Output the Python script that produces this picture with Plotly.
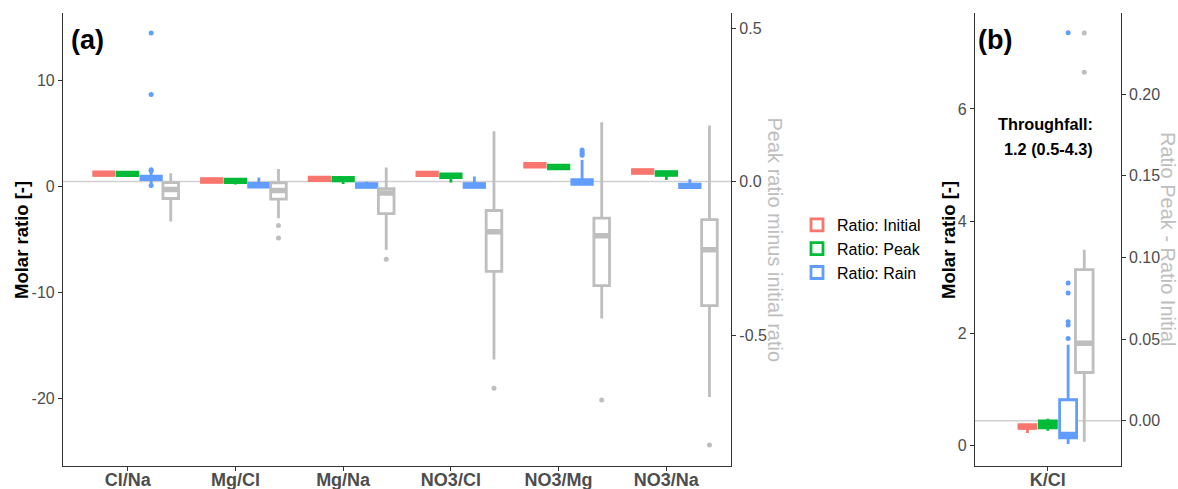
import plotly.graph_objects as go

W, H = 1178, 489

# ---------------- data ----------------
cats_a = ["Cl/Na", "Mg/Cl", "Mg/Na", "NO3/Cl", "NO3/Mg", "NO3/Na"]
cats_b = ["K/Cl"]

# Panel (a) molar ratios (left axis)
init_q1 = [1.05, 0.40, 0.56, 1.03, 1.85, 1.25]
init_med = [1.22, 0.57, 0.73, 1.20, 2.02, 1.42]
init_q3 = [1.39, 0.74, 0.90, 1.37, 2.19, 1.59]
init_lo = [1.00, 0.35, 0.50, 0.98, 1.80, 1.20]
init_hi = [1.45, 0.80, 0.95, 1.42, 2.25, 1.65]

peak_q1 = [1.03, 0.37, 0.53, 0.86, 1.68, 1.06]
peak_med = [1.20, 0.54, 0.70, 1.03, 1.85, 1.23]
peak_q3 = [1.37, 0.71, 0.87, 1.20, 2.02, 1.40]
peak_lo = [0.98, 0.20, 0.25, 0.38, 1.62, 0.63]
peak_hi = [1.42, 0.76, 0.92, 1.25, 2.08, 1.45]

rain_q1 = [0.65, -0.04, -0.07, -0.07, 0.20, -0.10]
rain_med = [0.82, 0.13, 0.10, 0.10, 0.40, 0.07]
rain_q3 = [0.99, 0.30, 0.27, 0.27, 0.65, 0.24]
rain_lo = [0.25, -0.08, -0.10, -0.10, 0.15, -0.13]
rain_hi = [1.35, 0.85, 0.45, 0.95, 2.50, 0.70]
rain_out_cat = ["Cl/Na", "Cl/Na", "Cl/Na", "Cl/Na", "Cl/Na",
                "NO3/Mg", "NO3/Mg", "NO3/Mg", "NO3/Mg"]
rain_out_val = [0.10, 1.50, 1.60, 8.70, 14.50, 2.95, 3.10, 3.30, 3.45]

# Panel (a) peak minus initial ratio (right axis)
diff_q1 = [-0.055, -0.057, -0.104, -0.292, -0.339, -0.404]
diff_med = [-0.026, -0.029, -0.037, -0.163, -0.176, -0.222]
diff_q3 = [-0.003, -0.004, -0.023, -0.094, -0.119, -0.124]
diff_lo = [-0.130, -0.119, -0.222, -0.579, -0.446, -0.701]
diff_hi = [0.027, 0.041, 0.046, 0.164, 0.193, 0.183]
diff_out_cat = ["Mg/Cl", "Mg/Cl", "Mg/Na", "NO3/Cl", "NO3/Mg", "NO3/Na"]
diff_out_val = [-0.143, -0.184, -0.253, -0.673, -0.711, -0.858]

# Panel (b) K/Cl
kcl_init = dict(q1=[0.31], med=[0.34], q3=[0.375], lo=[0.23], hi=[0.38])
kcl_peak = dict(q1=[0.32], med=[0.38], q3=[0.445], lo=[0.27], hi=[0.48])
kcl_rain = dict(q1=[0.14], med=[0.20], q3=[0.82], lo=[0.03], hi=[1.80])
kcl_rain_out = [1.91, 2.15, 2.21, 2.72, 2.90, 7.36]
kcl_diff = dict(q1=[0.0295], med=[0.0474], q3=[0.0925], lo=[-0.0129], hi=[0.1047])
kcl_diff_out = [0.2135, 0.2375]

series_names = ["Ratio: Initial", "Ratio: Peak", "Ratio: Rain"]

# ---------------- style ----------------
RED, GREEN, BLUE, GRAY = "#F8766D", "#00BA38", "#619CFF", "#BEBEBE"
FONT = "Liberation Sans, Arial, sans-serif"
AXC = "#333333"
TICKC = "#4D4D4D"

fig = go.Figure()


def add_box(pos, q1, med, q3, lo, hi, color, xa, ya, width, name=None, legend=False):
    fig.add_trace(go.Box(
        x=pos, q1=q1, median=med, q3=q3, lowerfence=lo, upperfence=hi,
        width=width, whiskerwidth=0, fillcolor="white",
        line=dict(color=color, width=2.8), boxpoints=False,
        xaxis=xa, yaxis=ya, name=name, showlegend=legend, hoverinfo="skip"))
    # thicker median line (ggplot style)
    fig.add_trace(go.Box(
        x=pos, q1=med, median=med, q3=med, lowerfence=med, upperfence=med,
        width=width, whiskerwidth=0, fillcolor=color,
        line=dict(color=color, width=5.5), boxpoints=False,
        xaxis=xa, yaxis=ya, showlegend=False, hoverinfo="skip"))


def add_pts(pos, vals, color, xa, ya):
    fig.add_trace(go.Scatter(
        x=pos, y=vals, mode="markers", marker=dict(color=color, size=5),
        xaxis=xa, yaxis=ya, showlegend=False, hoverinfo="skip"))


idx_a = {c: i + 1 for i, c in enumerate(cats_a)}
base_a = [idx_a[c] for c in cats_a]

off_a = [-0.22, 0.0, 0.218]
wa = 0.19
stats_a = [
    (init_q1, init_med, init_q3, init_lo, init_hi, RED),
    (peak_q1, peak_med, peak_q3, peak_lo, peak_hi, GREEN),
    (rain_q1, rain_med, rain_q3, rain_lo, rain_hi, BLUE),
]
for (q1, med, q3, lo, hi, col), off, nm in zip(stats_a, off_a, series_names):
    add_box([b + off for b in base_a], q1, med, q3, lo, hi, col, "x", "y", wa, nm, True)
add_pts([idx_a[c] + off_a[2] for c in rain_out_cat], rain_out_val, BLUE, "x", "y")

add_box([b + 0.40 for b in base_a], diff_q1, diff_med, diff_q3, diff_lo, diff_hi,
        GRAY, "x", "y2", 0.145)
add_pts([idx_a[c] + 0.40 for c in diff_out_cat], diff_out_val, GRAY, "x", "y2")

# panel b
off_b = [-0.168, 0.0, 0.167]
wb = 0.14
for d, off, col in zip([kcl_init, kcl_peak, kcl_rain], off_b, [RED, GREEN, BLUE]):
    add_box([1 + off], d["q1"], d["med"], d["q3"], d["lo"], d["hi"], col, "x2", "y3", wb)
add_pts([1 + off_b[2]] * len(kcl_rain_out), kcl_rain_out, BLUE, "x2", "y3")
add_box([1.30], kcl_diff["q1"], kcl_diff["med"], kcl_diff["q3"], kcl_diff["lo"],
        kcl_diff["hi"], GRAY, "x2", "y4", 0.145)
add_pts([1.30] * len(kcl_diff_out), kcl_diff_out, GRAY, "x2", "y4")

# ---------------- layout ----------------
def px(x):
    return x / W


def py(y):
    return 1 - y / H


dom_y = [py(466), py(13)]
tick_common = dict(ticks="outside", ticklen=4, tickwidth=1, tickcolor=AXC,
                   showline=True, linecolor=AXC, linewidth=1.2, showgrid=False,
                   zeroline=False, automargin=False)
ytf = dict(family=FONT, size=16, color=TICKC)
xtf = dict(family=FONT, size=18, color=TICKC, weight="bold")

fig.update_layout(
    width=W, height=H, margin=dict(l=0, r=0, t=0, b=0),
    plot_bgcolor="white", paper_bgcolor="white", boxmode="overlay",
    font=dict(family=FONT),
    xaxis=dict(domain=[px(63), px(731)], range=[0.4, 6.6], anchor="y",
               tickvals=base_a, ticktext=cats_a, tickfont=xtf,
               ticklabelstandoff=-7, **tick_common),
    yaxis=dict(domain=dom_y, range=[-26.4, 16.4], anchor="x",
               tickvals=[-20, -10, 0, 10], ticktext=["-20", "-10", "0", "10"],
               tickfont=ytf, **tick_common),
    yaxis2=dict(overlaying="y", side="right", anchor="x", range=[-0.926, 0.549],
                tickvals=[-0.5, 0, 0.5], ticktext=["-0.5", "0.0", "0.5"],
                tickfont=ytf, **tick_common),
    xaxis2=dict(domain=[px(975), px(1120.7)], range=[0.4, 1.6], anchor="y3",
                tickvals=[1], ticktext=cats_b, tickfont=xtf,
                ticklabelstandoff=-7, **tick_common),
    yaxis3=dict(domain=dom_y, range=[-0.36, 7.71], anchor="x2",
                tickvals=[0, 2, 4, 6], ticktext=["0", "2", "4", "6"],
                tickfont=ytf, **tick_common),
    yaxis4=dict(overlaying="y3", side="right", anchor="x2", range=[-0.0278, 0.2498],
                tickvals=[0, 0.05, 0.10, 0.15, 0.20],
                ticktext=["0.00", "0.05", "0.10", "0.15", "0.20"],
                tickfont=ytf, **tick_common),
    legend=dict(x=px(797), xanchor="left", y=py(249), yanchor="middle",
                font=dict(family=FONT, size=16, color="black"),
                bgcolor="rgba(0,0,0,0)", tracegroupgap=0),
)

fig.add_shape(type="line", xref="x domain", x0=0, x1=1, yref="y2", y0=0, y1=0,
              line=dict(color="#D0D0D0", width=1.5), layer="below")
fig.add_shape(type="line", xref="x2 domain", x0=0, x1=1, yref="y4", y0=0, y1=0,
              line=dict(color="#D0D0D0", width=1.5), layer="below")


def ann(text, x, y, size, color="black", bold=True, angle=0):
    fig.add_annotation(text=text, x=px(x), y=py(y), xref="paper", yref="paper",
                       xanchor="center", yanchor="middle", showarrow=False,
                       textangle=angle,
                       font=dict(family=FONT, size=size, color=color,
                                 weight="bold" if bold else "normal"))


ann("Molar ratio [-]", 21, 240, 18.5, angle=-90)
ann("Molar ratio [-]", 948, 240, 18.5, angle=-90)
ann("Peak ratio minus initial ratio", 775, 239.5, 20, color=GRAY, bold=False, angle=90)
ann("Ratio Peak - Ratio Initial", 1168, 239, 20, color=GRAY, bold=False, angle=90)
ann("(a)", 87.5, 40, 27)
ann("(b)", 995, 40, 27)
ann("Throughfall:", 1045.5, 123.5, 16.3)
ann("1.2 (0.5-4.3)", 1048, 148.5, 16.3)

fig.write_html("out.html")
